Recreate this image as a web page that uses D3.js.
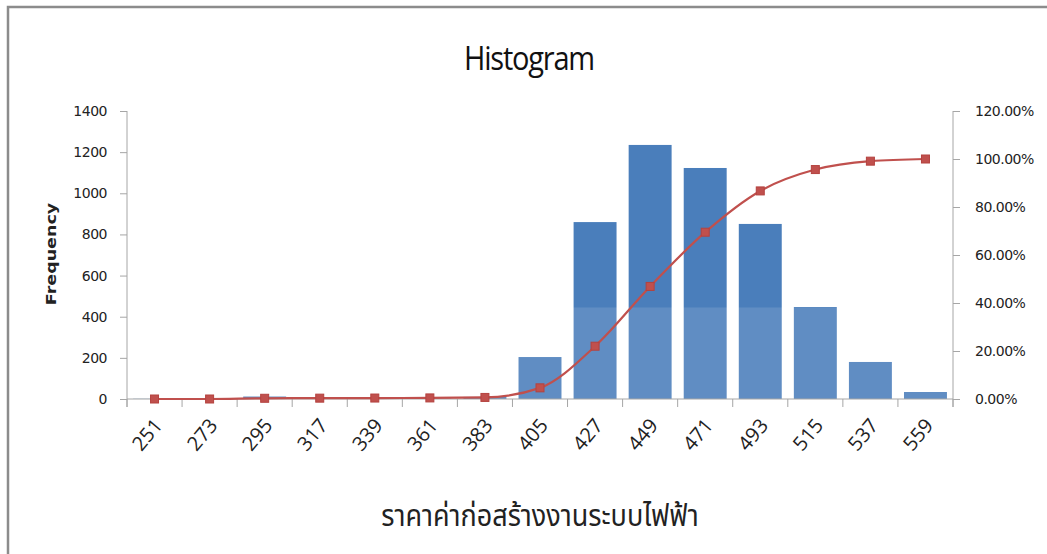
<!DOCTYPE html>
<html>
<head>
<meta charset="utf-8">
<style>
  body { margin: 0; background: #fff; }
  svg { display: block; }
</style>
</head>
<body>
<svg width="1047" height="554"></svg>
<script src="https://d3js.org/d3.v7.min.js"></script>
<script>

// bin labels (upper bin edge) and counts
var bins = ["251", "273", "295", "317", "339", "361", "383", "405", "427", "449", "471", "493", "515", "537", "559"];
var freq = [1, 1, 12, 2, 2, 2, 10, 204, 860, 1235, 1123, 851, 447, 180, 34];
// cumulative %, as plotted on the right axis
var cumPct = [0.0, 0.0, 0.3, 0.35, 0.4, 0.45, 0.65, 4.65, 22.0, 46.9, 69.5, 86.7, 95.6, 99.1, 100.0];

var freqTicks = [0, 200, 400, 600, 800, 1000, 1200, 1400];
var pctTicks = [0, 20, 40, 60, 80, 100, 120];

var svg = d3.select("svg"),
    plotL = 127, plotR = 953, plotT = 111, plotB = 399;

// frame of the chart area
svg.append("path")
    .attr("d", "M8,554 V7 H1047")
    .attr("fill", "none")
    .attr("stroke", "#8c8c8c")
    .attr("stroke-width", 2.5);

var x = d3.scaleBand().domain(bins).range([plotL, plotR]).paddingInner(0.22).paddingOuter(0.11);
var y = d3.scaleLinear().domain([0, 1400]).range([plotB, plotT]);
var y2 = d3.scaleLinear().domain([0, 120]).range([plotB, plotT]);

svg.append("text")
    .attr("transform", "translate(529,70) scale(1,1.1)")
    .attr("text-anchor", "middle")
    .attr("font-family", "'Open Sans', sans-serif")
    .attr("font-size", 29)
    .attr("letter-spacing", "-1.2px")
    .attr("fill", "#111")
    .text("Histogram");

// bars
svg.append("g")
  .selectAll("rect")
  .data(freq)
  .enter().append("rect")
    .attr("x", function(d, i) { return x(bins[i]); })
    .attr("width", x.bandwidth())
    .attr("y", function(d) { return y(d); })
    .attr("height", function(d) { return y(0) - y(d); })
    .attr("fill", "#4a7ebb");

// faint watermark wash over the lower part of the plot
svg.append("rect")
    .attr("x", plotL).attr("width", plotR - plotL)
    .attr("y", y(445)).attr("height", y(0) - y(445))
    .attr("fill", "#fff").attr("opacity", 0.12);

// axes
var axisColor = "#a6a6a6";

var gl = svg.append("g")
    .attr("transform", "translate(" + plotL + ",0)")
    .call(d3.axisLeft(y).tickValues(freqTicks).tickSize(7).tickFormat(d3.format("d")));

var gr = svg.append("g")
    .attr("transform", "translate(" + plotR + ",0)")
    .call(d3.axisRight(y2).tickValues(pctTicks).tickSize(7).tickFormat(function(d) { return d.toFixed(2) + "%"; }));

var gx = svg.append("g")
    .attr("transform", "translate(0," + plotB + ")");
gx.append("line")
    .attr("x1", plotL).attr("x2", plotR)
    .attr("stroke", axisColor);
gx.selectAll(".tk")
    .data(bins.concat(["end"]))
    .enter().append("line")
    .attr("x1", function(d, i) { return plotL + i * x.step(); })
    .attr("x2", function(d, i) { return plotL + i * x.step(); })
    .attr("y1", 0).attr("y2", 8)
    .attr("stroke", axisColor);
gx.selectAll("text")
    .data(bins)
    .enter().append("text")
    .attr("transform", function(d) {
      return "translate(" + (x(d) + x.bandwidth() / 2 + 9) + ",27) rotate(-50)";
    })
    .attr("text-anchor", "end")
    .attr("font-family", "'Open Sans', sans-serif")
    .attr("font-size", 20)
    .attr("fill", "#222")
    .text(function(d) { return d; });

[gl, gr].forEach(function(g) {
  g.select(".domain").attr("stroke", axisColor)
      .attr("d", "M0," + plotT + "V" + (plotB + 8));
  g.selectAll(".tick line").attr("stroke", axisColor);
  g.selectAll(".tick text")
      .attr("font-family", "'DejaVu Sans', Verdana, sans-serif")
      .attr("font-size", 14)
      .attr("letter-spacing", "-0.5px")
      .attr("fill", "#222");
});
gl.selectAll(".tick text").attr("x", -20);
gr.selectAll(".tick text").attr("x", 22);

// cumulative line
var cx = function(i) { return x(bins[i]) + x.bandwidth() / 2; };
var line = d3.line()
    .x(function(d, i) { return cx(i); })
    .y(function(d) { return y2(d); })
    .curve(d3.curveMonotoneX);

svg.append("path")
    .datum(cumPct)
    .attr("d", line)
    .attr("fill", "none")
    .attr("stroke", "#c0504d")
    .attr("stroke-width", 2.2);

svg.append("g")
  .selectAll("rect")
  .data(cumPct)
  .enter().append("rect")
    .attr("x", function(d, i) { return cx(i) - 4; })
    .attr("y", function(d) { return y2(d) - 4; })
    .attr("width", 8).attr("height", 8)
    .attr("fill", "#c0504d")
    .attr("stroke", "#b4423f")
    .attr("stroke-width", 1);

// axis titles
svg.append("text")
    .attr("transform", "translate(56,254) scale(1,1.25) rotate(-90)")
    .attr("text-anchor", "middle")
    .attr("font-family", "'DejaVu Sans', Verdana, sans-serif")
    .attr("font-weight", "bold")
    .attr("font-size", 14)
    .attr("fill", "#222")
    .text("Frequency");

svg.append("text")
    .attr("transform", "translate(540,526) scale(1,1.1)")
    .attr("text-anchor", "middle")
    .attr("font-family", "'Noto Sans Thai', 'Noto Sans', sans-serif")
    .attr("font-size", 27)
    .attr("fill", "#222")
    .text("ราคาค่าก่อสร้างงานระบบไฟฟ้า");

</script>
</body>
</html>
